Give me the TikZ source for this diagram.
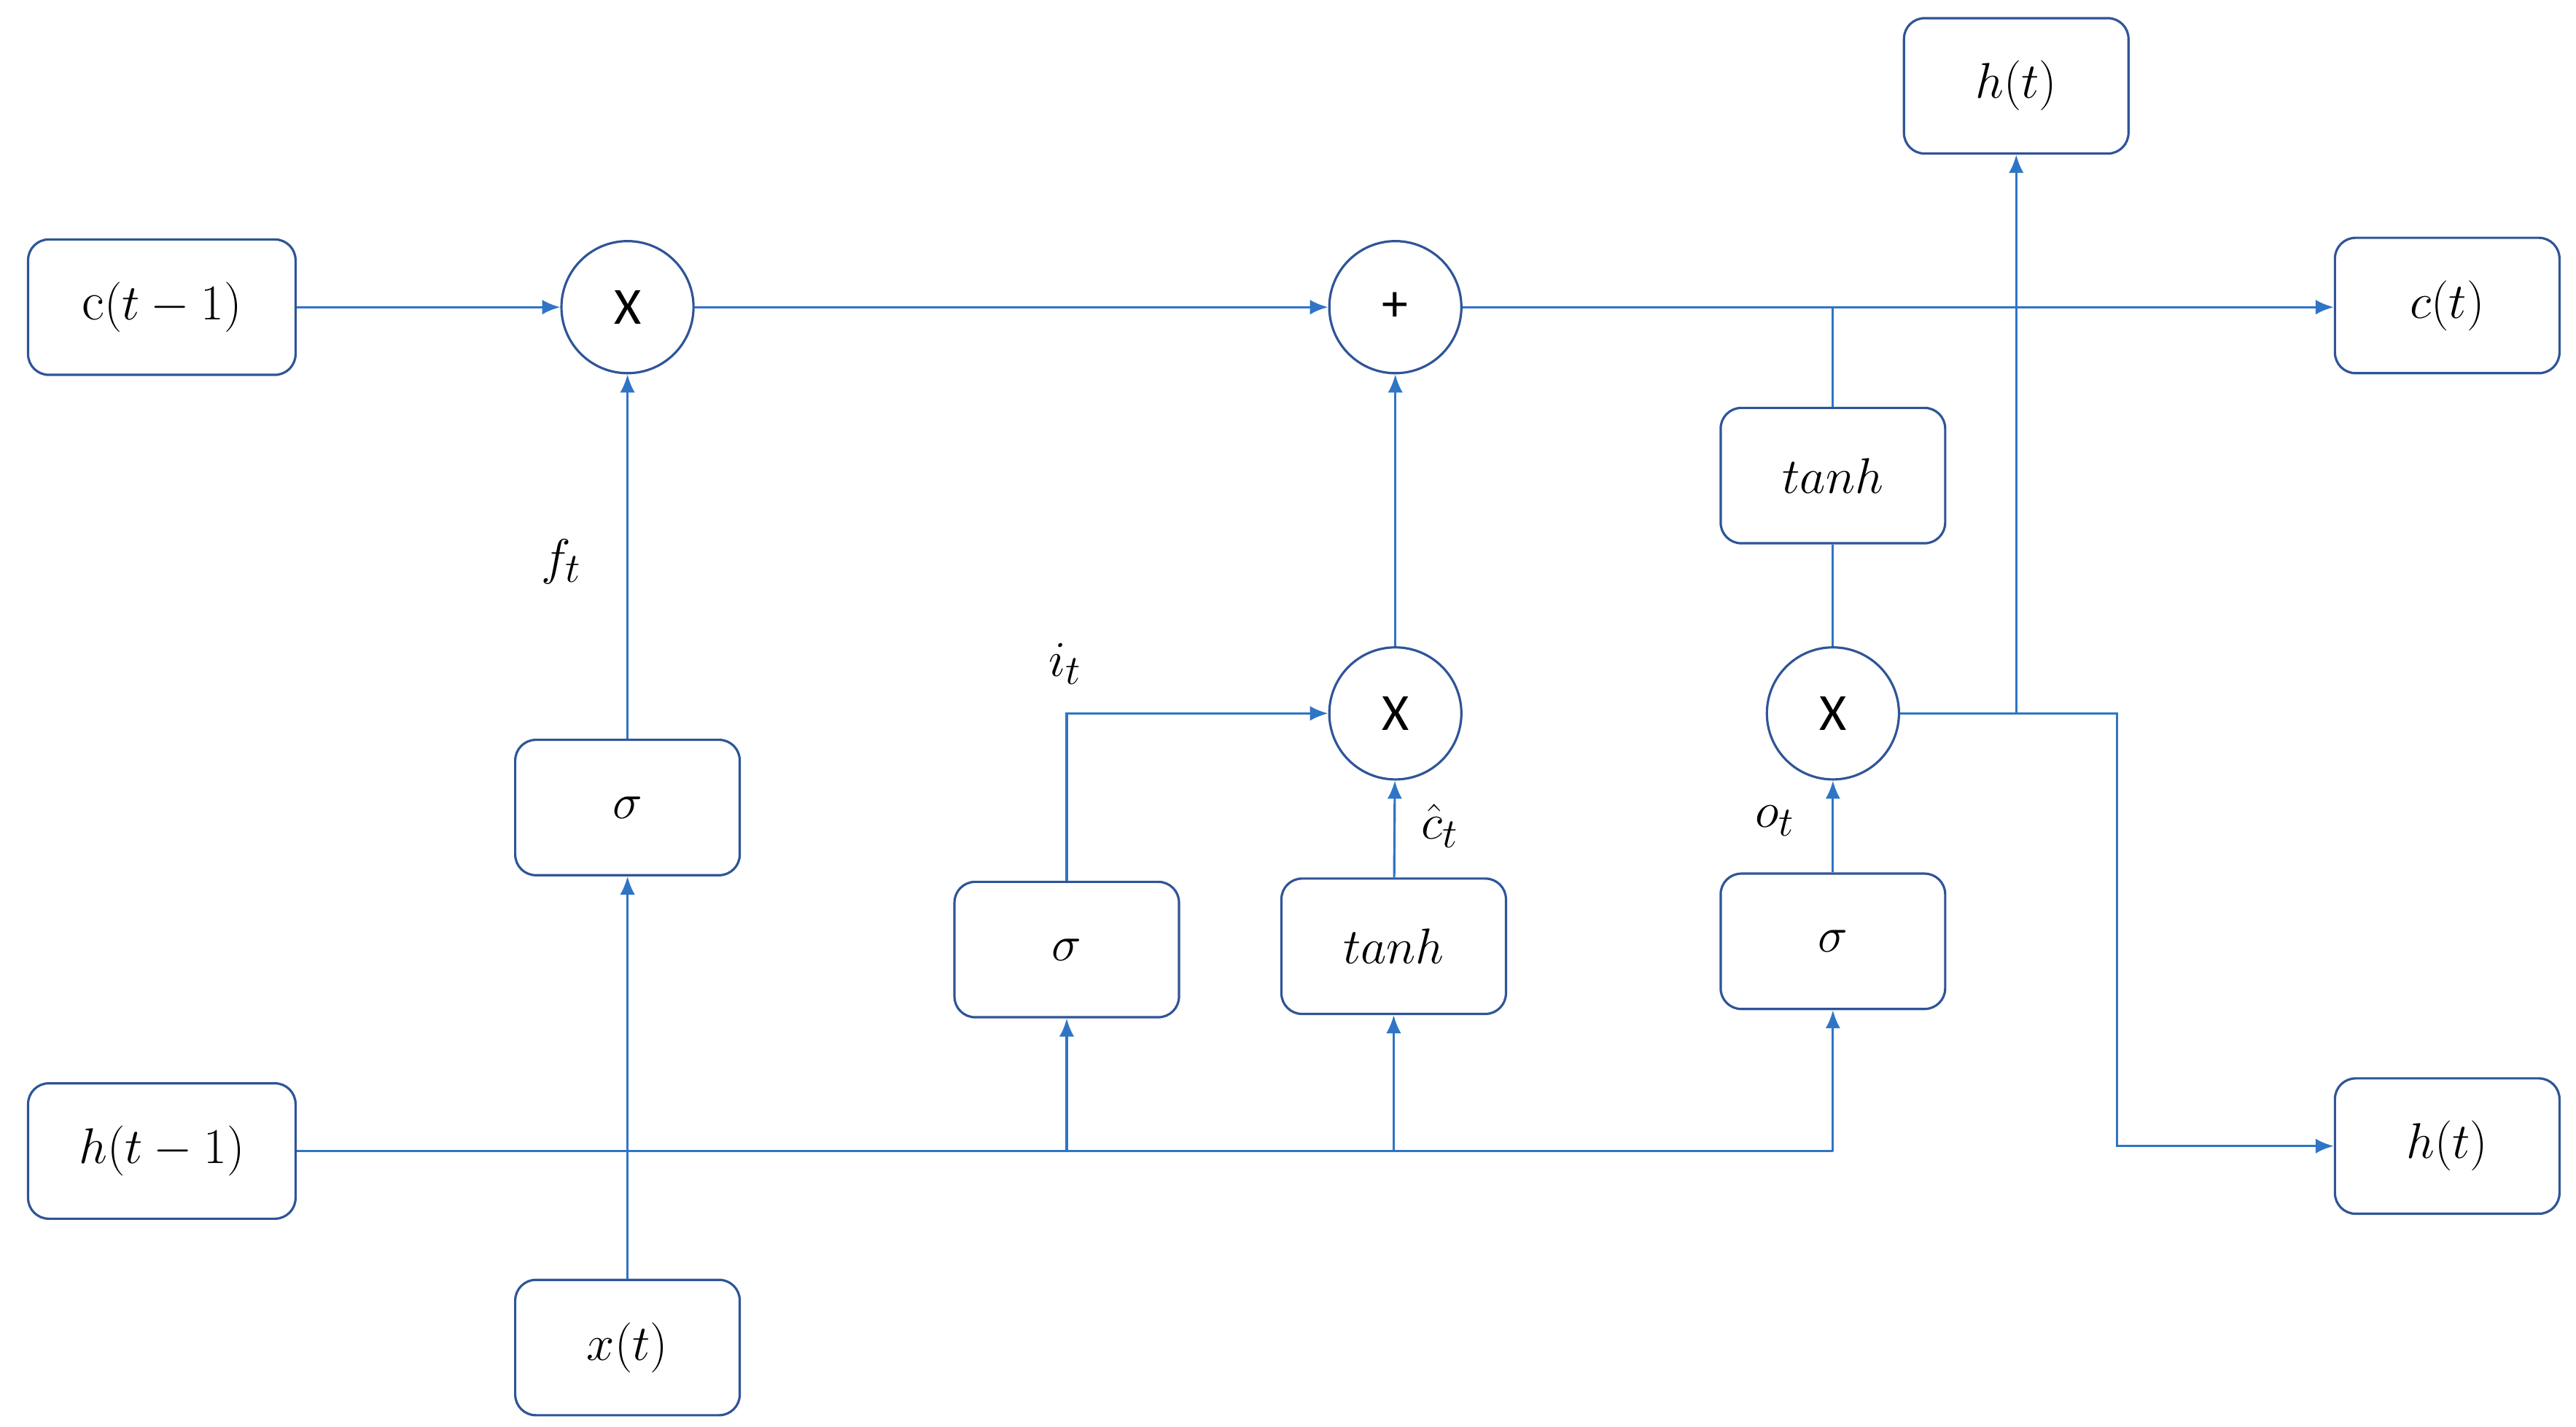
\documentclass[tikz,border=0pt]{standalone}
\usepackage{fontspec}
\newfontfamily\calfont{Carlito}
\usetikzlibrary{arrows.meta,positioning}
\definecolor{lineblue}{HTML}{2E75C6}
\definecolor{boxblue}{HTML}{2F5597}
\begin{document}
\begin{tikzpicture}[x=0.02cm,y=-0.02cm,font=\fontsize{19}{22}\selectfont]
  \tikzstyle{gate}=[rectangle,rounded corners=2.5mm,draw=boxblue,thick,minimum width=2.72cm,minimum height=1.64cm]
  \tikzstyle{wide}=[gate,minimum width=3.24cm]
  \tikzstyle{op}=[circle,draw=boxblue,thick,minimum size=1.6cm,inner sep=0pt,font=\calfont\fontsize{18}{20}\selectfont]
  \tikzstyle{wire}=[lineblue,thick,-{Latex[length=2.2mm,width=1.8mm]}]
  \tikzstyle{plain}=[lineblue,thick]
  \useasboundingbox (0,0) rectangle (1560,864);

  % inputs and outputs
  \node[wide] (cprev) at (98,186) {c$(t-1)$};
  \node[wide] (hprev) at (98,697) {$h(t-1)$};
  \node[gate] (xt) at (380,816) {$x(t)$};
  \node[gate] (htop) at (1221,52) {$h(t)$};
  \node[gate] (cnext) at (1482,185) {$c(t)$};
  \node[gate] (hnext) at (1482,694) {$h(t)$};

  % gates
  \node[gate] (sigf) at (380,489) {$\sigma$};
  \node[gate] (sigi) at (646,575) {$\sigma$};
  \node[gate] (tanhc) at (844,573) {$tanh$};
  \node[gate] (sigo) at (1110,570) {$\sigma$};
  \node[gate] (tanhh) at (1110,288) {$tanh$};

  % operations
  \node[op] (mulf) at (380,186) {X};
  \node[op] (add) at (845,186) {+};
  \node[op] (muli) at (845,432) {X};
  \node[op] (mulo) at (1110,432) {X};

  % labels
  \node at (340,340) {$f_t$};
  \node at (645,402) {$i_t$};
  \node at (872,500) {$\hat{c}_t$};
  \node at (1075,497) {$o_t$};

  % edges
  \coordinate (hj) at (1110,697);
  \draw[plain] (hprev.east) -- (hj);
  \draw[wire] (hj) -- (sigo);
  \draw[wire] (646,697) -- (sigi);
  \draw[wire] (tanhc|-hj) -- (tanhc);
  \draw[wire] (xt) -- (sigf);
  \draw[wire] (sigf) -- (mulf);
  \draw[wire] (cprev) -- (mulf);
  \draw[wire] (mulf) -- (add);
  \draw[wire] (add) -- (cnext.west|-add);
  \draw[plain] (tanhh|-add) -- (tanhh);
  \draw[plain] (tanhh) -- (mulo);
  \draw[wire] (sigi) |- (muli);
  \draw[wire] (tanhc) -- (muli);
  \draw[wire] (muli) -- (add);
  \draw[wire] (sigo) -- (mulo);
  \coordinate (hb) at (1221,432);
  \draw[plain] (mulo) -- (hb);
  \draw[wire] (hb) -- (htop);
  \draw[wire] (hb) -- (1282,432) |- (hnext);
\end{tikzpicture}
\end{document}
